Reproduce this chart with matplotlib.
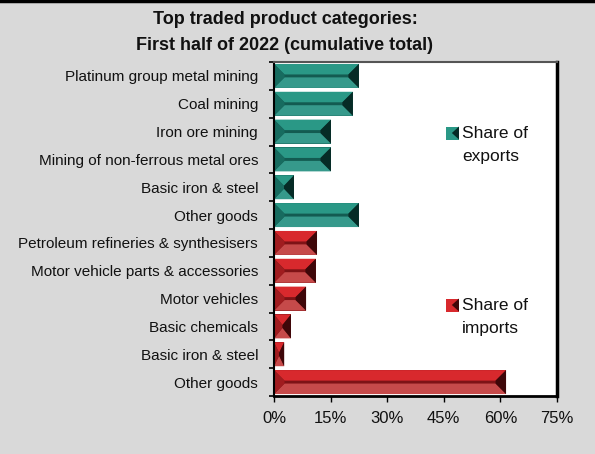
import matplotlib.pyplot as plt
from matplotlib.patches import Polygon, Rectangle
from matplotlib.lines import Line2D

plt.rcParams['font.family'] = ['Liberation Sans', 'DejaVu Sans']

# top traded product categories, first half of 2022
categories = ['Platinum group metal mining', 'Coal mining', 'Iron ore mining',
              'Mining of non-ferrous metal ores', 'Basic iron & steel', 'Other goods',
              'Petroleum refineries & synthesisers', 'Motor vehicle parts & accessories',
              'Motor vehicles', 'Basic chemicals', 'Basic iron & steel', 'Other goods']
export_share = [22.5, 20.9, 15.1, 15.1, 5.3, 22.5]
import_share = [11.4, 11.1, 8.5, 4.5, 2.7, 61.5]
xticks = [0, 15, 30, 45, 60, 75]

teal = {'base': '#135b51', 'top': '#2a9886', 'bot': '#36998b', 'left': '#176b5f', 'right': '#062b26'}
red = {'base': '#7e1316', 'top': '#d8292d', 'bot': '#c64a4a', 'left': '#a01c1f', 'right': '#3e0709'}

W, H = 595, 454
fig = plt.figure(figsize=(W / 100, H / 100), dpi=100)
fig.patch.set_facecolor('#d9d9d9')
ax = fig.add_axes([274 / W, 1 - 396 / H, (557 - 274) / W, (396 - 62) / H])
ax.set_xlim(0, 75)
ax.set_ylim(len(categories) - 0.5, -0.5)

# pixel scale of the axes, used to keep the bevel square
px_x = (557 - 274) / 75.0
px_y = (396 - 62) / float(len(categories))


def bevel_bar(y, v, c, hh=0.43, bev=10.5):
    top, bot = y - hh, y + hh
    dy = min(bev / px_y, hh * 0.92)
    dx = min(bev / px_x, v / 2.0)
    ax.add_patch(Rectangle((0, top), v, 2 * hh, facecolor=c['base'], edgecolor='none'))
    ax.add_patch(Polygon([(0, top), (v, top), (v - dx, top + dy), (dx, top + dy)],
                         facecolor=c['top'], edgecolor='none'))
    ax.add_patch(Polygon([(0, bot), (v, bot), (v - dx, bot - dy), (dx, bot - dy)],
                         facecolor=c['bot'], edgecolor='none'))
    ax.add_patch(Polygon([(0, top), (dx, top + dy), (dx, bot - dy), (0, bot)],
                         facecolor=c['left'], edgecolor='none'))
    ax.add_patch(Polygon([(v, top), (v - dx, top + dy), (v - dx, bot - dy), (v, bot)],
                         facecolor=c['right'], edgecolor='none'))


for i, v in enumerate(export_share):
    bevel_bar(i, v, teal)
for i, v in enumerate(import_share):
    bevel_bar(i + len(export_share), v, red)

ax.set_yticks(range(len(categories)))
ax.set_yticklabels(categories, fontsize=11, color='#111111')
ax.set_yticks([i + 0.5 for i in range(-1, len(categories))], minor=True)
ax.tick_params(axis='y', which='major', length=0, pad=11.5)
ax.tick_params(axis='y', which='minor', length=3.5, width=1.2, direction='out')
ax.set_xticks(xticks)
ax.set_xticklabels(['{}%'.format(t) for t in xticks], fontsize=12, color='#111111')
ax.tick_params(axis='x', length=4, width=1, pad=7)

ax.spines['top'].set_color('#555555')
ax.spines['top'].set_linewidth(1.5)
ax.spines['right'].set_linewidth(2.5)
ax.spines['bottom'].set_linewidth(2)
ax.spines['left'].set_linewidth(1.5)

fig.text(285 / W, 1 - 19 / H, 'Top traded product categories:', ha='center', va='center',
         fontsize=13, fontweight='bold', color='#111111')
fig.text(285 / W, 1 - 46 / H, 'First half of 2022 (cumulative total)', ha='center', va='center',
         fontsize=13, fontweight='bold', color='#111111')

# legend entries drawn by hand inside the plot area
for ymid, c, word in [(133, teal, 'exports'), (305, red, 'imports')]:
    sx, sw = 446 / W, 13 / W
    sy, sh = 1 - (ymid + 6.5) / H, 13 / H
    fig.patches.append(Rectangle((sx, sy), sw, sh, facecolor=c['top'], edgecolor='none',
                                 transform=fig.transFigure, figure=fig))
    fig.patches.append(Polygon([(sx + sw, sy), (sx + sw, sy + sh), (sx + sw * 0.45, sy + sh / 2)],
                               facecolor=c['right'], edgecolor='none',
                               transform=fig.transFigure, figure=fig))
    fig.text(462 / W, 1 - ymid / H, 'Share of', ha='left', va='center', fontsize=12.5,
             color='#111111')
    fig.text(462 / W, 1 - (ymid + 23) / H, word, ha='left', va='center', fontsize=12.5,
             color='#111111')

fig.add_artist(Line2D([0, 1], [1 - 1 / H, 1 - 1 / H], color='black', linewidth=2.5,
                      transform=fig.transFigure))

fig.savefig('out.png', dpi=100, facecolor=fig.get_facecolor())
